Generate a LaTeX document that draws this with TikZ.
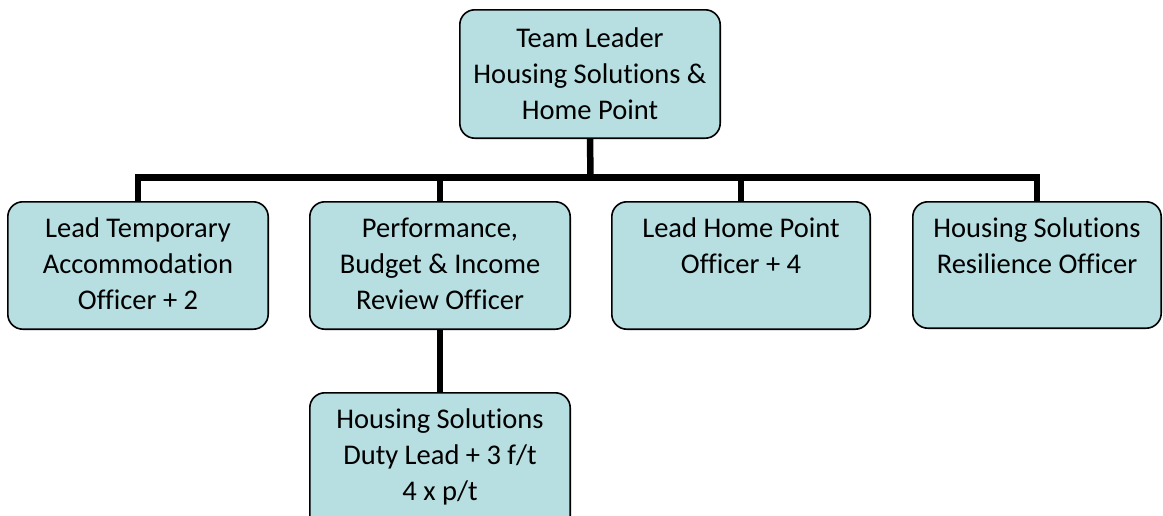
\documentclass[tikz,border=0pt]{standalone}
\usepackage{fontspec}
\setmainfont[Ligatures={NoCommon}]{Carlito}
\definecolor{boxfill}{HTML}{B7DEE0}
\begin{document}
\begin{tikzpicture}[x=1pt,y=-1pt,
  box/.style={draw=black,line width=1.6pt,fill=boxfill,rounded corners=15pt,inner sep=0pt},
  txt/.style={align=center,inner sep=0pt,font=\fontsize{28.5}{36}\selectfont},
  conn/.style={line width=6.5pt,line join=miter}]
\useasboundingbox (0,0) rectangle (1163,515);
\clip (0,0) rectangle (1163,515);
% boxes (named), drawn as path nodes so connectors can refer to them
\path (590,74) node[minimum width=260pt,minimum height=128pt,inner sep=0pt] (top) {}
      (138,265.5) node[minimum width=260pt,minimum height=127pt,inner sep=0pt] (n1) {}
      (440,265.5) node[minimum width=260pt,minimum height=127pt,inner sep=0pt] (n2) {}
      (741,265.5) node[minimum width=258pt,minimum height=127pt,inner sep=0pt] (n3) {}
      (1037,265) node[minimum width=248pt,minimum height=126pt,inner sep=0pt] (n4) {}
      (440,464) node[minimum width=260pt,minimum height=142pt,inner sep=0pt] (n5) {};
\coordinate (bar) at (590.5,177.5);
% connectors
\draw[conn] (top.south) -- (bar);
\draw[conn] (n1.north) |- (bar) -| (n4.north);
\draw[conn] (n2.north) -- (n2.north |- bar);
\draw[conn] (n3.north) -- (n3.north |- bar);
\draw[conn] (n2.south) -- (n5.north);
% box outlines over connector ends
\foreach \n in {top,n1,n2,n3,n4,n5}
  \draw[box] (\n.south west) rectangle (\n.north east);
% texts
\node[txt] (ttop) at (top.center) {Team Leader\\Housing Solutions \&\\Home Point};
\node[txt,anchor=north] (t1) at (138,218) {Lead Temporary\\Accommodation\\Officer + 2};
\node[txt,anchor=north] (t2) at (440,218) {Performance,\\Budget \& Income\\Review Officer};
\node[txt,anchor=north] (t3) at (741,218) {Lead Home Point\\Officer + 4};
\node[txt,anchor=north] (t4) at (1037,218) {Housing Solutions\\Resilience Officer};
\node[txt,anchor=north] (t5) at (440,409) {Housing Solutions\\Duty Lead + 3 f/t\\4 x p/t};
\end{tikzpicture}
\end{document}
